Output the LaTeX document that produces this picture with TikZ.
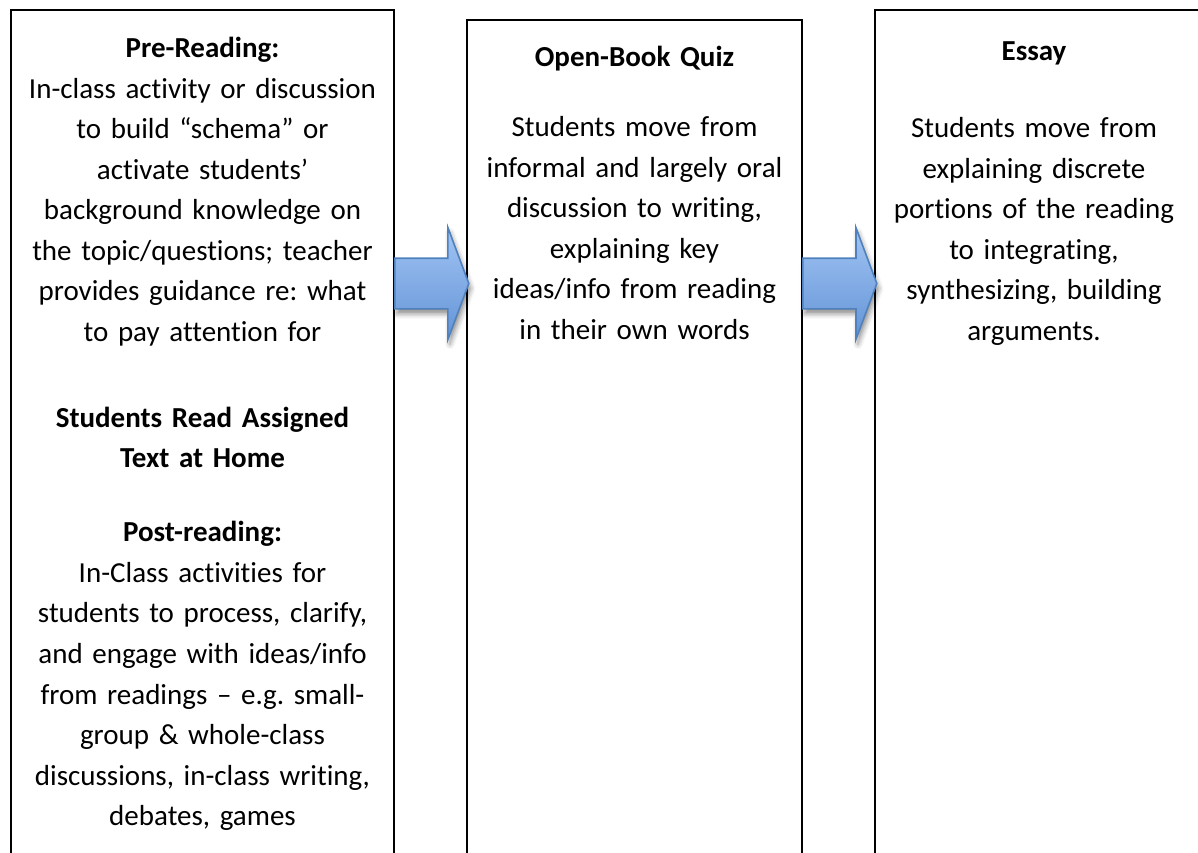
\documentclass[tikz,border=0pt]{standalone}
\usepackage{fontspec}
\setmainfont{Carlito}[Ligatures={NoCommon}]
\usepackage{tikz}
\usetikzlibrary{shapes.arrows, shadows.blur, positioning}

\definecolor{arrowtop}{HTML}{A2C5F4}
\definecolor{arrowbot}{HTML}{6393D6}
\definecolor{arrowline}{HTML}{4F81BD}

\frenchspacing

\begin{document}
\begin{tikzpicture}[
    x=1pt, y=-1pt,
    frame/.style={rectangle, draw=black, line width=1.6pt, outer sep=0pt,
                  anchor=north west, minimum height=900pt},
    txt/.style={text width=400pt, align=center, inner sep=0pt, anchor=base,
                font=\fontsize{29}{40.5}\selectfont},
    blockarrow/.style={single arrow, draw=arrowline, line width=1.6pt,
                top color=arrowtop, bottom color=arrowbot,
                minimum height=74pt, inner xsep=0pt, inner ysep=24.5pt,
                single arrow head extend=30.5pt, single arrow tip angle=139,
                anchor=tail,
                blur shadow={shadow xshift=2pt, shadow yshift=-5pt,
                             shadow blur radius=5pt, shadow opacity=45}}
]
\begin{scope}
\clip (0,0) rectangle (1198,853);

% the three stages
\node[frame, minimum width=383pt] (pre)   at (11,10)  {};
\node[frame, minimum width=335pt] (quiz)  at (467,20) {};
\node[frame, minimum width=345pt] (essay) at (875,10) {};

\node[txt] (pretext) at ([yshift=-48pt]pre.north) {%
  \textbf{Pre-Reading:}\\
  In-class activity or discussion\\
  to build “schema” or\\
  activate students’\\
  background knowledge on\\
  the topic/questions; teacher\\
  provides guidance re: what\\
  to pay attention for\\[45.5pt]
  \textbf{Students Read Assigned}\\
  \textbf{Text at Home}\\[33.5pt]
  \textbf{Post-reading:}\\
  In-Class activities for\\
  students to process, clarify,\\
  and engage with ideas/info\\
  from readings – e.g. small-\\
  group \& whole-class\\
  discussions, in-class writing,\\
  debates, games};

\node[txt] (quiztext) at ([yshift=-47pt]quiz.north) {%
  \textbf{Open-Book Quiz}\\[29.5pt]
  Students move from\\
  informal and largely oral\\
  discussion to writing,\\
  explaining key\\
  ideas/info from reading\\
  in their own words};

\node[txt] (essaytext) at ([xshift=159pt, yshift=-51pt]essay.north west) {%
  \textbf{Essay}\\[36.5pt]
  Students move from\\
  explaining discrete\\
  portions of the reading\\
  to integrating,\\
  synthesizing, building\\
  arguments.};

% arrows between the stages
\node[blockarrow] (arrowone) at ([yshift=-273.5pt]pre.north east) {};
\node[blockarrow] (arrowtwo) at (quiz.east |- arrowone.tail) {};
\end{scope}

\pgfresetboundingbox
\path[use as bounding box] (0,0) rectangle (1198,853);
\end{tikzpicture}
\end{document}
